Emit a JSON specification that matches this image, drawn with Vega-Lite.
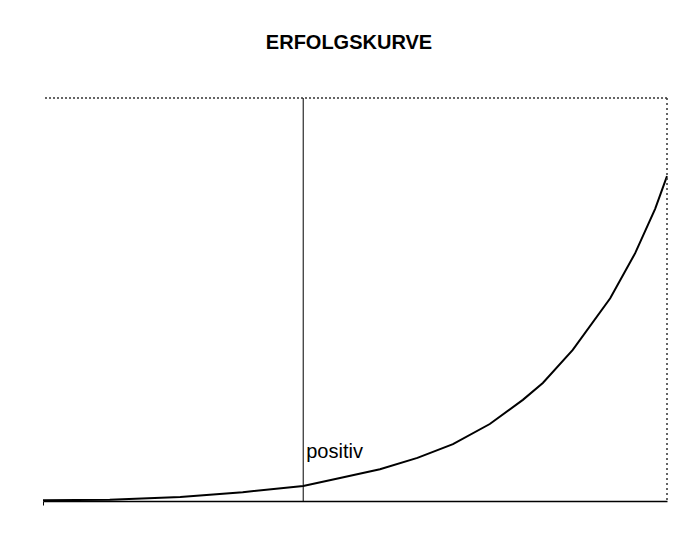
{
  "$schema": "https://vega.github.io/schema/vega-lite/v6.json",
  "width": 624,
  "height": 403,
  "autosize": {"type": "none"},
  "padding": {"left": 43, "top": 98, "right": 27, "bottom": 52},
  "background": "white",
  "config": {"view": {"stroke": null}, "font": "Liberation Sans"},
  "title": {
    "text": "ERFOLGSKURVE",
    "font": "Liberation Sans",
    "fontSize": 20,
    "fontWeight": "bold",
    "color": "black",
    "anchor": "middle",
    "frame": "group",
    "offset": 28,
    "dx": -6,
    "baseline": "alphabetic"
  },
  "datasets": {
    "curve": [
      {"x": 0, "y": 0.2},
      {"x": 10.7, "y": 0.3},
      {"x": 22, "y": 1.0},
      {"x": 32, "y": 2.2},
      {"x": 41.7, "y": 3.7},
      {"x": 47.6, "y": 5.7},
      {"x": 54, "y": 7.9},
      {"x": 60, "y": 10.7},
      {"x": 65.7, "y": 14.1},
      {"x": 71.6, "y": 19.1},
      {"x": 76.9, "y": 25.1},
      {"x": 80.1, "y": 29.3},
      {"x": 84.9, "y": 37.5},
      {"x": 90.9, "y": 50.3},
      {"x": 94.9, "y": 61.5},
      {"x": 98.1, "y": 72.5},
      {"x": 100, "y": 80.6}
    ],
    "marker": [
      {"x": 41.7, "y": 12.2, "label": "positiv", "xmax": 100, "ymax": 100}
    ]
  },
  "layer": [
    {
      "data": {"name": "curve"},
      "mark": {"type": "line", "color": "black", "strokeWidth": 2, "clip": false},
      "encoding": {
        "x": {
          "field": "x",
          "type": "quantitative",
          "scale": {"domain": [0, 100], "nice": false},
          "axis": {
            "domain": true,
            "domainColor": "black",
            "domainWidth": 1.5,
            "ticks": true,
            "values": [0],
            "tickSize": 4,
            "tickColor": "black",
            "labels": false,
            "title": null,
            "grid": false
          }
        },
        "y": {
          "field": "y",
          "type": "quantitative",
          "scale": {"domain": [0, 100], "nice": false},
          "axis": null
        }
      }
    },
    {
      "data": {"name": "marker"},
      "mark": {"type": "rule", "color": "#333333", "strokeWidth": 1.5, "strokeDash": [2, 2]},
      "encoding": {"y": {"field": "ymax", "type": "quantitative"}}
    },
    {
      "data": {"name": "marker"},
      "mark": {"type": "rule", "color": "#333333", "strokeWidth": 1.5, "strokeDash": [2, 3]},
      "encoding": {"x": {"field": "xmax", "type": "quantitative"}}
    },
    {
      "data": {"name": "marker"},
      "mark": {"type": "rule", "color": "black", "strokeWidth": 1},
      "encoding": {"x": {"field": "x", "type": "quantitative"}}
    },
    {
      "data": {"name": "marker"},
      "mark": {"type": "text", "align": "left", "baseline": "middle", "dx": 3, "fontSize": 20, "color": "black", "font": "Liberation Sans"},
      "encoding": {
        "x": {"field": "x", "type": "quantitative"},
        "y": {"field": "y", "type": "quantitative"},
        "text": {"field": "label"}
      }
    }
  ]
}
